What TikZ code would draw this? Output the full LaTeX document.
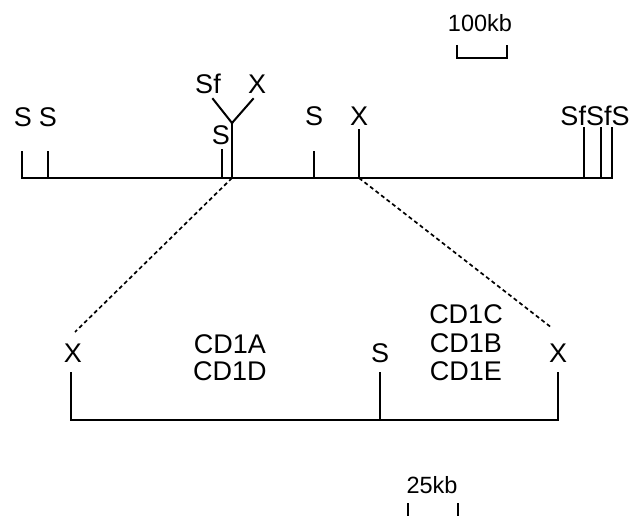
\documentclass[tikz,border=0pt]{standalone}
\usepackage{fontspec}
\setmainfont{Liberation Sans}
\usetikzlibrary{positioning}

\begin{document}
\begin{tikzpicture}[x=1pt, y=-1pt,
    map/.style={line width=2pt, line cap=rect},
    lbl/.style={anchor=base, inner sep=0pt, font=\fontsize{27}{30}\selectfont},
    scl/.style={anchor=base, inner sep=0pt, font=\fontsize{23.5}{26}\selectfont},
    zoomline/.style={line width=1.7pt, dash pattern=on 4pt off 3pt}]
\useasboundingbox (0,0) rectangle (636,516);

% Scale bar, large map
\node[scl] (bar100) at (480,32) {100kb};
\draw[line width=1.8pt] (457,45) -- (457,58) -- (507,58) -- (507,45);

% Large map with sites
\coordinate (ml) at (22,178);
\coordinate (mr) at (612,178);
\draw[map] (ml) -- (mr);
\foreach \x/\t/\n in {22/152/a, 48/152/b, 222/150/c, 232/123/y, 314/152/d, 359/130/e, 584/128/f, 601/128/g, 612/128/h} {
    \coordinate (site\n) at (\x,178);
    \coordinate (top\n) at (\x,\t);
    \draw[map] (site\n) -- (top\n);
}
\coordinate (armsf) at (213,99);
\coordinate (armx) at (253,99);
\draw[map] (topy) -- (armsf);
\draw[map] (topy) -- (armx);

\node[lbl] (s1) at (23,126) {S};
\node[lbl] (s2) at (48,126) {S};
\node[lbl] (sf1) at (208,93) {Sf};
\node[lbl] (x1) at (257,93) {X};
\node[lbl] (s3) at (221,144) {S};
\node[lbl] (s4) at (314,125) {S};
\node[lbl] (x2) at (359,125) {X};
\node[lbl] (sfsfs) at (595,125) {SfSfS};

% Expanded region
\coordinate (zl) at (75,332);
\coordinate (zr) at (552,328);
\draw[zoomline] (sitey) -- (zl);
\draw[zoomline] (sitee) -- (zr);

% Small map
\coordinate (bl) at (71,420);
\coordinate (br) at (558,420);
\draw[map] (bl) -- (br);
\foreach \x/\n in {71/l, 380/m, 558/r} {
    \coordinate (low\n) at (\x,420);
    \coordinate (lowtop\n) at (\x,373);
    \draw[map] (low\n) -- (lowtop\n);
}
\node[lbl] (x3) at (73,362) {X};
\node[lbl] (s5) at (380,362) {S};
\node[lbl] (x4) at (558,362) {X};

% Genes
\foreach \g/\x/\y in {CD1A/230/353, CD1D/230/380, CD1C/466/323, CD1B/466/352, CD1E/466/380} {
    \node[lbl] (\g) at (\x,\y) {\g};
}

% Scale bar, small map
\node[scl] (bar25) at (432,493) {25kb};
\draw[line width=1.8pt] (408,503) -- (408,516);
\draw[line width=1.8pt] (458,503) -- (458,516);
\end{tikzpicture}
\end{document}
